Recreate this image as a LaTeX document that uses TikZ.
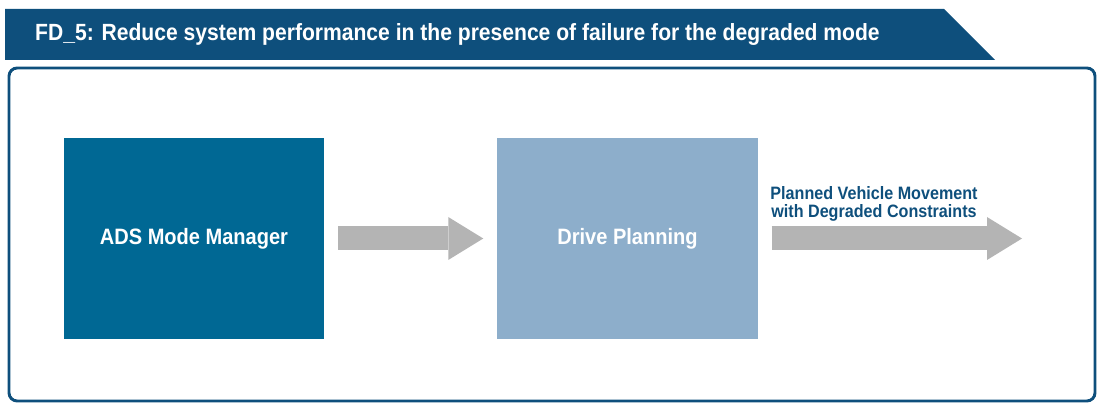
\documentclass[tikz,border=0pt]{standalone}
\usepackage{fontspec}
\setmainfont{Liberation Sans}[FakeStretch=0.9]
\usetikzlibrary{arrows.meta, positioning}

\definecolor{navy}{RGB}{14,79,124}
\definecolor{teal}{RGB}{0,104,148}
\definecolor{pale}{RGB}{141,174,203}
\definecolor{arrgray}{RGB}{180,180,180}

\begin{document}
\begin{tikzpicture}[
      x=0.03cm, y=-0.03cm,
      node distance=5.19cm,
      block/.style={rectangle, minimum width=7.8cm, minimum height=6.03cm,
                    align=center, text=white, font=\fontsize{19}{22}\selectfont\bfseries},
      bigarr/.style={-{Triangle[length=1.05cm, width=1.29cm, line width=0pt]},
                     line width=0.72cm, draw=arrgray},
      lbl/.style={text=navy, align=center, inner sep=0pt, outer sep=0pt,
                  font=\fontsize{15.3}{15.6}\selectfont\bfseries}
    ]
    \useasboundingbox (0,0) rectangle (1097,403);

    % header banner
    \fill[navy] (5,9) -- (944,9) -- (995,60) -- (5,60) -- cycle;
    \node[anchor=west, text=white, inner sep=0pt,
          font=\fontsize{20}{23}\selectfont\bfseries] (title) at (35,34)
          {FD\_5: Reduce system performance in the presence of failure for the degraded mode};

    % frame
    \draw[navy, line width=2.5pt, rounded corners=7pt] (9,68) rectangle (1095,401);

    % blocks
    \node[block, fill=teal] (ads) at (194,238.5) {ADS Mode Manager};
    \node[block, fill=pale, right=of ads] (drive) {Drive Planning};
    \coordinate (out) at (1022,238.5);

    \draw[bigarr, shorten <=0.42cm, shorten >=0.42cm] (ads) -- (drive);
    \draw[bigarr, shorten <=0.42cm] (drive) -- node[lbl, pos=0.44, above=0.52cm]
          {Planned Vehicle Movement\\with Degraded Constraints} (out);
  \end{tikzpicture}
\end{document}
